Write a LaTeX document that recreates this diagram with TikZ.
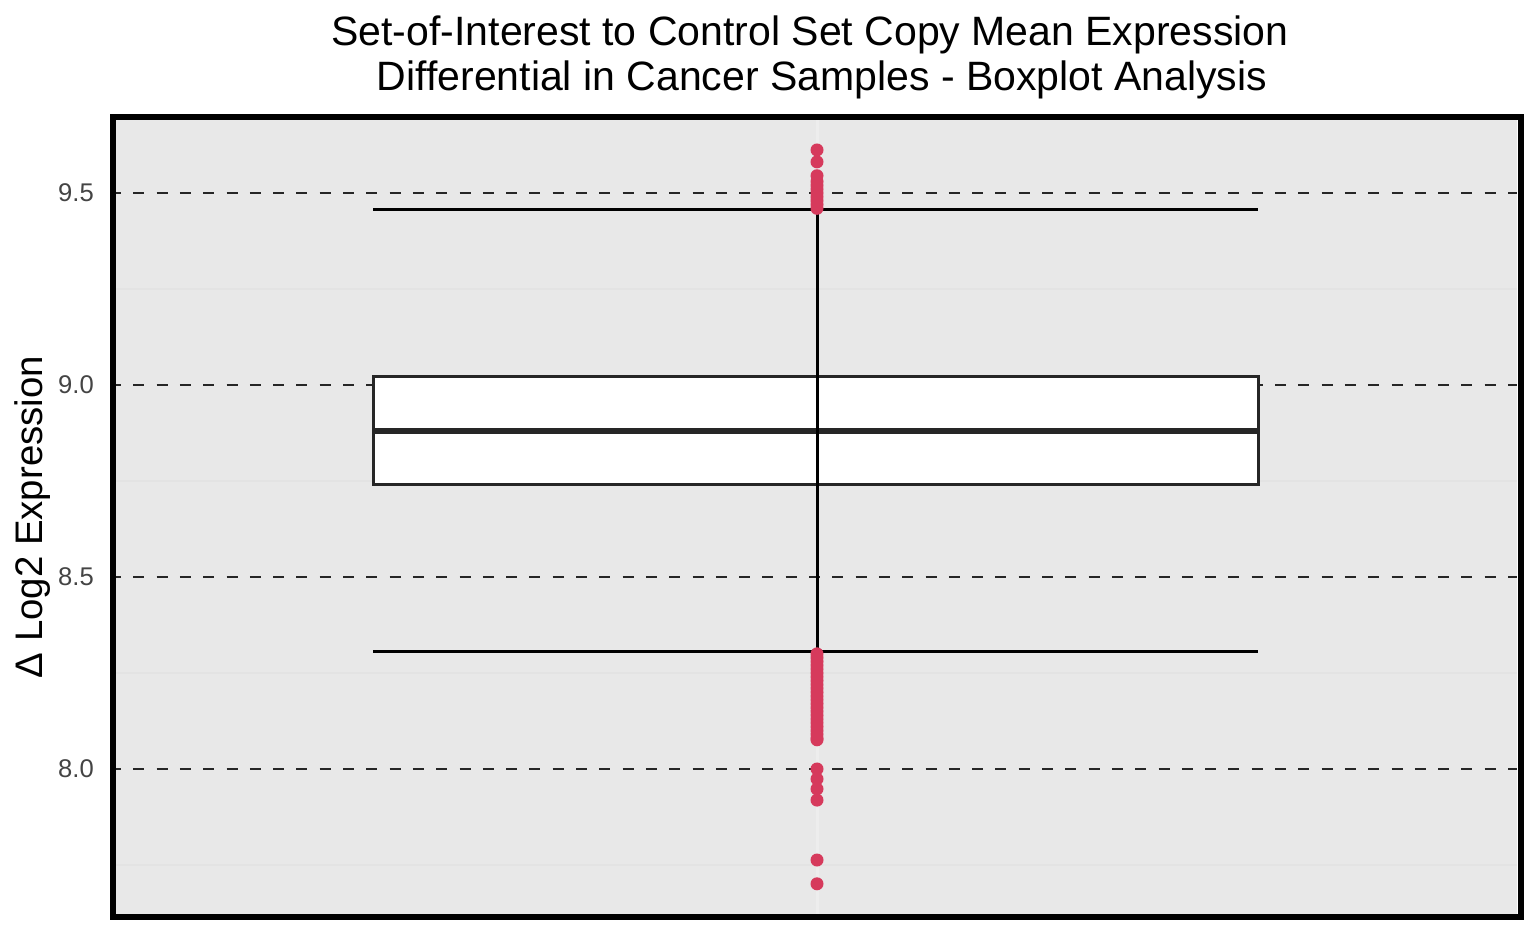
\documentclass[tikz,border=0pt]{standalone}
\usepackage{fontspec}
\setmainfont{Liberation Sans}
\usetikzlibrary{positioning}
\definecolor{panelgray}{RGB}{232,232,232}
\definecolor{minorgray}{RGB}{227,227,227}
\definecolor{vgridgray}{RGB}{237,237,237}
\definecolor{outliercol}{RGB}{214,58,92}
\definecolor{ticktext}{RGB}{68,68,68}
\definecolor{boxedge}{RGB}{38,38,38}

\begin{document}
\begin{tikzpicture}[x=1pt,y=1pt]
\tikzstyle{majorgrid}=[line width=1.8pt,dash pattern=on 11pt off 12.3pt,dash phase=6pt,draw=black!85]
\tikzstyle{minorgrid}=[line width=2pt,draw=minorgray]
\tikzstyle{whisker}=[line width=3pt,draw=black]
\tikzstyle{outlier}=[fill=outliercol]
\tikzstyle{ticklabel}=[anchor=east,text=ticktext,inner sep=0pt,font=\fontsize{25.6}{30}\selectfont]
\useasboundingbox (0,0) rectangle (1540,951);
%%%%%%%%%%%%%%%%%%%%%%%%%%%%%%%%%%%%%%%%%%%%%%%%%%%%%%%%%%%%%%%%%%%%%%%%%%%%%%%%%%%%%%%%
%% Draw Panel
%%%%%%%%%%%%%%%%%%%%%%%%%%%%%%%%%%%%%%%%%%%%%%%%%%%%%%%%%%%%%%%%%%%%%%%%%%%%%%%%%%%%%%%%
\fill[panelgray] (116,37) rectangle (1517,831);
\draw[line width=3pt,draw=vgridgray] (817,37) -- (817,831);

\begin{scope}[y=384pt,yshift=-2890pt]
% minor grid
\foreach \v in {7.75,8.25,8.75,9.25}
  \draw[minorgrid] (116,\v) -- (1517,\v);
% major grid and tick labels
\foreach \v [count=\i] in {8.0,8.5,9.0,9.5} {
  \draw[majorgrid] (116,\v) -- (1517,\v);
  \node[ticklabel] (tick\i) at (94,\v) {\v};
}
%%%%%%%%%%%%%%%%%%%%%%%%%%%%%%%%%%%%%%%%%%%%%%%%%%%%%%%%%%%%%%%%%%%%%%%%%%%%%%%%%%%%%%%%
%% Draw Box
%%%%%%%%%%%%%%%%%%%%%%%%%%%%%%%%%%%%%%%%%%%%%%%%%%%%%%%%%%%%%%%%%%%%%%%%%%%%%%%%%%%%%%%%
\filldraw[fill=white,draw=boxedge,line width=3pt] (373,8.7396) rectangle (1258,9.0234);
\draw[line width=6pt,draw=boxedge] (373,8.880) -- (1258,8.880);
% whiskers
\draw[whisker] (817,8.307) -- (817,9.456);
\draw[whisker] (373,9.456) -- (1258,9.456);
\draw[whisker] (373,8.307) -- (1258,8.307);
% outliers
\foreach \v in {9.46,9.47,9.48,9.49,9.50,9.51,9.52,9.53,9.545,9.581,9.612}
  \fill[outlier] (817,\v) circle (6.5pt);
\foreach \v in {8.08,8.09,...,8.30}
  \fill[outlier] (817,\v) circle (6.5pt);
\foreach \v in {8.076,8.000,7.974,7.948,7.919,7.763,7.701}
  \fill[outlier] (817,\v) circle (6.5pt);
\end{scope}

% frame
\draw[line width=6pt] (113,34) rectangle (1520.5,834);
%%%%%%%%%%%%%%%%%%%%%%%%%%%%%%%%%%%%%%%%%%%%%%%%%%%%%%%%%%%%%%%%%%%%%%%%%%%%%%%%%%%%%%%%
%% Labels
%%%%%%%%%%%%%%%%%%%%%%%%%%%%%%%%%%%%%%%%%%%%%%%%%%%%%%%%%%%%%%%%%%%%%%%%%%%%%%%%%%%%%%%%
\node[anchor=base,inner sep=0pt,font=\fontsize{41}{45}\selectfont] (title1) at (810,905) {Set-of-Interest to Control Set Copy Mean Expression};
\node[anchor=base,inner sep=0pt,font=\fontsize{41}{45}\selectfont] (title2) at (822,860) {Differential in Cancer Samples - Boxplot Analysis};
\node[anchor=base,rotate=90,inner sep=0pt,font=\fontsize{38.4}{42}\selectfont] (ylabel) at (42.5,434) {Δ Log2 Expression};

\end{tikzpicture}
\end{document}
